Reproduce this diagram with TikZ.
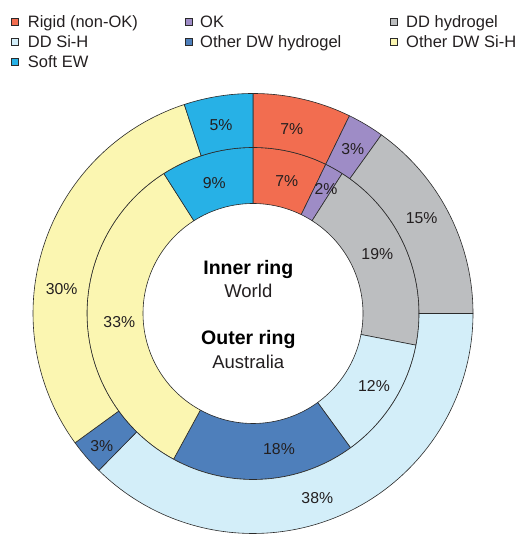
\documentclass[tikz,border=0pt]{standalone}
\usepackage{fontspec}
\setmainfont{Liberation Sans}
\definecolor{cRed}{HTML}{F26D50}
\definecolor{cPur}{HTML}{9E8CC6}
\definecolor{cGray}{HTML}{BCBEC0}
\definecolor{cLBlue}{HTML}{D3EEF9}
\definecolor{cDBlue}{HTML}{4E7FBB}
\definecolor{cYel}{HTML}{FBF6B1}
\definecolor{cCyan}{HTML}{27B1E6}
\definecolor{cLine}{HTML}{2A2A2A}
\definecolor{cTxt}{HTML}{231F20}
\newcommand{\ringseg}[5]{%
  \filldraw[segline,fill=#5] (#3:#2) arc[start angle=#3,end angle=#4,radius=#2]
    -- (#4:#1) arc[start angle=#4,end angle=#3,radius=#1] -- cycle;}
\begin{document}
\begin{tikzpicture}[x=1pt,y=1pt,
  segline/.style={draw=cLine,line width=0.6pt,line join=round},
  pct/.style={text=cTxt,font=\fontsize{15.8}{18}\selectfont,inner sep=0pt},
  legtxt/.style={text=cTxt,font=\fontsize{16.5}{19}\selectfont,anchor=base west,inner sep=0pt},
  legbox/.style={draw=cLine,line width=0.6pt,minimum size=7.4pt,inner sep=0pt},
  ctitle/.style={text=black,font=\fontsize{19.5}{22}\bfseries\selectfont,anchor=base,inner sep=0pt},
  csub/.style={text=cTxt,font=\fontsize{18.5}{22}\selectfont,anchor=base,inner sep=0pt}]
\useasboundingbox (0,0) rectangle (519,534);
\begin{scope}[shift={(253,220.5)}]
  % inner ring (World)
  \ringseg{110}{166}{64}{90}{cRed}
  \ringseg{110}{166}{57.5}{64}{cPur}
  \ringseg{110}{166}{-11}{57.5}{cGray}
  \ringseg{110}{166}{-54}{-11}{cLBlue}
  \ringseg{110}{166}{-118.6}{-54}{cDBlue}
  \ringseg{110}{166}{122.5}{241.4}{cYel}
  \ringseg{110}{166}{90}{122.5}{cCyan}
  % outer ring (Australia)
  \ringseg{166}{220}{64}{90}{cRed}
  \ringseg{166}{220}{54.3}{64}{cPur}
  \ringseg{166}{220}{0}{54.3}{cGray}
  \ringseg{166}{220}{-134.5}{0}{cLBlue}
  \ringseg{166}{220}{-144}{-134.5}{cDBlue}
  \ringseg{166}{220}{108.2}{216}{cYel}
  \ringseg{166}{220}{90}{108.2}{cCyan}
\end{scope}
% outer labels
\node[pct] (o1) at (291.7,404.7) {7\%};
\node[pct] (o2) at (352.7,384.7) {3\%};
\node[pct] (o3) at (421.7,315.7) {15\%};
\node[pct] (o4) at (317.3,35.7) {38\%};
\node[pct] (o5) at (101.7,88.3) {3\%};
\node[pct] (o6) at (61.7,244.7) {30\%};
\node[pct] (o7) at (221,409) {5\%};
% inner labels
\node[pct] (i1) at (286.7,353.3) {7\%};
\node[pct] (i2) at (326,344.7) {2\%};
\node[pct] (i3) at (377.3,279.7) {19\%};
\node[pct] (i4) at (374,148.3) {12\%};
\node[pct] (i5) at (279,85) {18\%};
\node[pct] (i6) at (119.3,211.7) {33\%};
\node[pct] (i7) at (214.3,350.7) {9\%};
% centre text
\node[ctitle] (t1) at (248.3,259.7) {Inner ring};
\node[csub] (t2) at (248.3,236.3) {World};
\node[ctitle] (t3) at (248.3,189) {Outer ring};
\node[csub] (t4) at (248.3,165.7) {Australia};
% legend
\node[legbox,fill=cRed] (b1) at (14.6,512) {};
\node[legtxt] (l1) at (27.7,506.7) {Rigid (non-OK)};
\node[legbox,fill=cPur] (b2) at (188.6,512) {};
\node[legtxt] (l2) at (200,506.7) {OK};
\node[legbox,fill=cGray] (b3) at (393.6,512) {};
\node[legtxt] (l3) at (406,506.7) {DD hydrogel};
\node[legbox,fill=cLBlue] (b4) at (14.6,492) {};
\node[legtxt] (l4) at (27.7,486.7) {DD Si-H};
\node[legbox,fill=cDBlue] (b5) at (188.6,492) {};
\node[legtxt] (l5) at (200,486.7) {Other DW hydrogel};
\node[legbox,fill=cYel] (b6) at (393.6,492) {};
\node[legtxt] (l6) at (406,486.7) {Other DW Si-H};
\node[legbox,fill=cCyan] (b7) at (14.6,472) {};
\node[legtxt] (l7) at (27.7,466.7) {Soft EW};
\end{tikzpicture}
\end{document}
